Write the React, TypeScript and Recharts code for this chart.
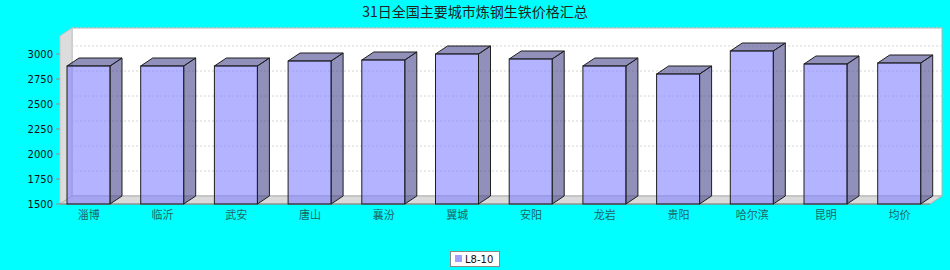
import { BarChart, Bar, XAxis, YAxis, CartesianGrid } from 'recharts';

const cities = ['淄博', '临沂', '武安', '唐山', '襄汾', '翼城', '安阳', '龙岩', '贵阳', '哈尔滨', '昆明', '均价'];
const prices = [2880, 2880, 2880, 2930, 2940, 3000, 2950, 2880, 2800, 3030, 2900, 2910];
const priceTicks = [1500, 1750, 2000, 2250, 2500, 2750, 3000];
const seriesName = 'L8-10';
const title = '31日全国主要城市炼钢生铁价格汇总';

const data = cities.map((city, i) => ({ city, price: prices[i] }));

// 3D extrusion of the plot box and the bars
const DX = 12;
const DY = 8;

const FRONT = 'rgba(128,128,255,0.6)';
const SIDE = 'rgba(70,70,140,0.6)';
const EDGE = '#1e1e1e';

const W = 950;
const H = 270;
// front face of the plot box
const FX0 = 60;
const FX1 = 930;
const FY0 = 36;
const FY1 = 204;

const cjk = '"Noto Sans CJK SC", sans-serif';
const latin = '"DejaVu Sans", sans-serif';

function Bar3D(props: any) {
  const { x, y, width, height } = props;
  if (width == null || height == null) return null;
  const x2 = x + width;
  const y2 = y + height;
  return (
    <g>
      <polygon
        points={`${x2},${y} ${x2 + DX},${y - DY} ${x2 + DX},${y2 - DY} ${x2},${y2}`}
        fill={SIDE}
        stroke={EDGE}
        strokeWidth={1}
      />
      <polygon
        points={`${x},${y} ${x + DX},${y - DY} ${x2 + DX},${y - DY} ${x2},${y}`}
        fill={SIDE}
        stroke={EDGE}
        strokeWidth={1}
      />
      <rect x={x} y={y} width={width} height={height} fill={FRONT} stroke={EDGE} strokeWidth={1} />
    </g>
  );
}

function CityTick(props: any) {
  const { x, payload } = props;
  return (
    <text x={x} y={219} textAnchor="middle" fontSize={11} fontFamily={cjk} fill="#1f6464">
      {payload.value}
    </text>
  );
}

function PriceTick(props: any) {
  const { y, payload } = props;
  return (
    <g>
      <line x1={56} x2={60} y1={y} y2={y} stroke="#a08888" />
      <text x={53} y={y + 3.5} textAnchor="end" fontSize={10} fontFamily={latin} fill="#111">
        {payload.value}
      </text>
    </g>
  );
}

function BackGridLine(props: any) {
  const { y1 } = props;
  if (y1 >= FY1 - 1) return <g key={props.key} />;
  return (
    <line
      key={props.key}
      x1={FX0 + DX}
      x2={FX1 + DX}
      y1={y1 - DY}
      y2={y1 - DY}
      stroke="#d4d4d4"
      strokeDasharray="2 2"
    />
  );
}

function PlotBox() {
  return (
    <svg width={W} height={H} style={{ position: 'absolute', left: 0, top: 0 }}>
      <text x={W / 2} y={17} textAnchor="middle" fontSize={14} fontFamily={cjk} fill="#222">
        {title}
      </text>
      {/* back wall */}
      <rect x={FX0 + DX} y={FY0 - DY} width={FX1 - FX0} height={FY1 - FY0} fill="#fff" stroke="#b4b4b4" />
      {/* left wall */}
      <polygon
        points={`${FX0},${FY0} ${FX0 + DX},${FY0 - DY} ${FX0 + DX},${FY1 - DY} ${FX0},${FY1}`}
        fill="#dcdcdc"
        stroke="#c4c4c4"
      />
      {/* floor */}
      <polygon
        points={`${FX0},${FY1} ${FX0 + DX},${FY1 - DY} ${FX1 + DX},${FY1 - DY} ${FX1},${FY1}`}
        fill="#dadada"
        stroke="#b0b0b0"
      />
      <line x1={FX0} x2={FX1} y1={FY1} y2={FY1} stroke="#808080" />
    </svg>
  );
}

function LegendBox() {
  return (
    <svg width={W} height={H} style={{ position: 'absolute', left: 0, top: 0, pointerEvents: 'none' }}>
      <rect x={450.5} y={251.5} width={49} height={15} fill="#fff" stroke="#888" />
      <rect x={455} y={255} width={7} height={7} fill="#a0a0ff" />
      <text x={465} y={263} fontSize={10} fontFamily={latin} fill="#111">
        {seriesName}
      </text>
    </svg>
  );
}

export default function App() {
  return (
    <div style={{ position: 'relative', width: W, height: H, background: '#00ffff', overflow: 'hidden' }}>
      <style>{'body{margin:0}'}</style>
      <PlotBox />
      <div style={{ position: 'absolute', left: 0, top: 0 }}>
        <BarChart
          width={W}
          height={H}
          data={data}
          barSize={43}
          margin={{ top: FY0, right: 13.6, bottom: 46, left: 0 }}
        >
          <CartesianGrid vertical={false} horizontal={BackGridLine} />
          <XAxis dataKey="city" height={20} axisLine={false} tickLine={false} tick={CityTick} interval={0} />
          <YAxis
            type="number"
            width={52}
            domain={[1500, 3180]}
            ticks={priceTicks}
            axisLine={false}
            tickLine={false}
            tick={PriceTick}
            interval={0}
          />
          <Bar dataKey="price" name={seriesName} shape={Bar3D} isAnimationActive={false} />
        </BarChart>
      </div>
      <LegendBox />
    </div>
  );
}
